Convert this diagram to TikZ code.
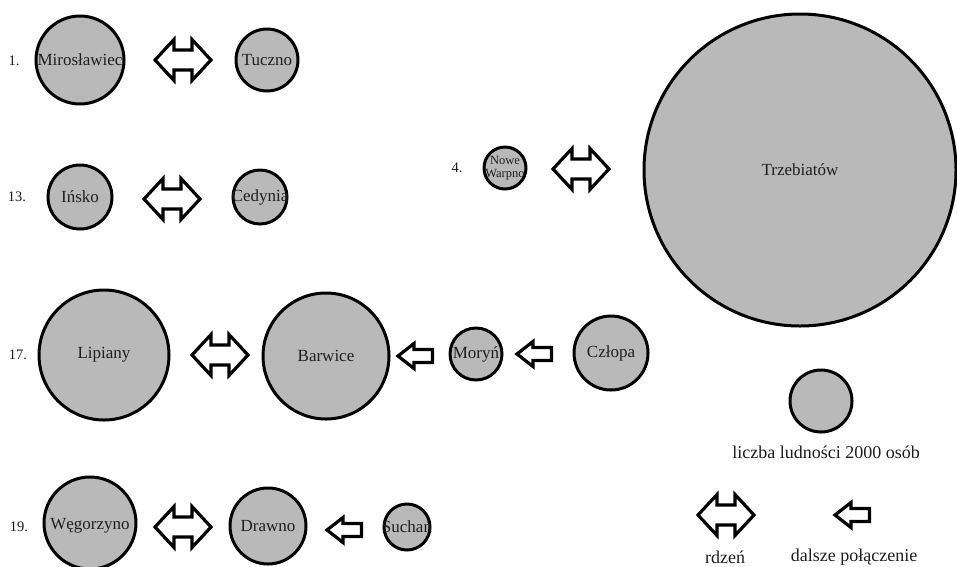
\documentclass[tikz,border=0pt]{standalone}
\usepackage{fontspec}
\setmainfont{Liberation Serif}
\definecolor{cfill}{RGB}{185,185,185}
\definecolor{ctext}{RGB}{30,30,30}
\tikzset{
  town/.style={circle, draw=black, line width=3pt, fill=cfill, inner sep=0pt, minimum size=#1},
  lbl/.style={inner sep=0pt, text=ctext, font=\fontsize{17}{19}\selectfont},
  num/.style={inner sep=0pt, text=ctext, font=\fontsize{14.5}{16}\selectfont},
  legtext/.style={inner sep=0pt, text=ctext, font=\fontsize{18}{20}\selectfont},
  shapeline/.style={draw=black, line width=3.2pt, line join=miter, fill=white},
  dblarrow/.pic={\path[shapeline] (-28,0) -- (-9,-20.5) -- (-9,-10) -- (9,-10) -- (9,-20.5) -- (28,0)
      -- (9,20.5) -- (9,10) -- (-9,10) -- (-9,20.5) -- cycle;},
  sglarrow/.pic={\path[shapeline] (-17,0) -- (-1,-12.5) -- (-1,-6.5) -- (17.5,-6.5) -- (17.5,6.5)
      -- (-1,6.5) -- (-1,12.5) -- cycle;}
}
\begin{document}
\begin{tikzpicture}[x=1pt,y=-1pt]
\useasboundingbox (0,0) rectangle (957,566);
\fill[white] (0,0) rectangle (957,566);

% row 1
\node[num] (n1) at (14,61) {1.};
\node[town=88] (mir) at (80,60) {};
\node[lbl] (mirt) at (mir.center) {Mirosławiec};
\pic at (183,60) {dblarrow};
\node[town=62] (tuc) at (267,60) {};
\node[lbl] (tuct) at (tuc.center) {Tuczno};

% row 13
\node[num] (n13) at (17,197) {13.};
\node[town=64] (ins) at (80,197) {};
\node[lbl] (inst) at (ins.center) {Ińsko};
\pic at (172,199) {dblarrow};
\node[town=54] (ced) at (260,197) {};
\node[lbl] (cedt) at (ced.center) {Cedynia};

% row 4
\node[num] (n4) at (457,168) {4.};
\node[town=42] (now) at (505,168) {};
\node[inner sep=0pt, text=ctext, font=\fontsize{12.5}{13}\selectfont, align=center] (nowt) at (now.center) {Nowe\\Warpno};
\pic at (581,169) {dblarrow};
\node[town=312] (trz) at (800,170) {};
\node[lbl] (trzt) at (trz.center) {Trzebiatów};

% row 17
\node[num] (n17) at (18,355) {17.};
\node[town=130] (lip) at (104,355) {};
\node[lbl] (lipt) at (lip.center) {Lipiany};
\pic at (220,355) {dblarrow};
\node[town=126] (bar) at (326,356) {};
\node[lbl] (bart) at (bar.center) {Barwice};
\pic at (415,356) {sglarrow};
\node[town=52] (mor) at (476,354) {};
\node[lbl] (mort) at (mor.center) {Moryń};
\pic at (534,354) {sglarrow};
\node[town=74] (czl) at (611,353) {};
\node[lbl] (czlt) at (czl.center) {Człopa};

% row 19
\node[num] (n19) at (19,527) {19.};
\node[town=92] (weg) at (90,523) {};
\node[lbl] (wegt) at (90,526) {Węgorzyno};
\pic at (183,527) {dblarrow};
\node[town=76] (dra) at (268,526) {};
\node[lbl] (drat) at (dra.center) {Drawno};
\pic at (344,530) {sglarrow};
\node[town=46] (suc) at (407,527) {};
\node[lbl] (suct) at (suc.center) {Suchań};

% legend
\node[town=62] (leg) at (821,401) {};
\node[legtext] (legt) at (826,452) {liczba ludności 2000 osób};
\pic at (726,515) {dblarrow};
\pic at (852,515) {sglarrow};
\node[legtext] (rdz) at (725,557) {rdzeń};
\node[legtext] (dal) at (854,557) {dalsze połączenie};
\end{tikzpicture}
\end{document}
